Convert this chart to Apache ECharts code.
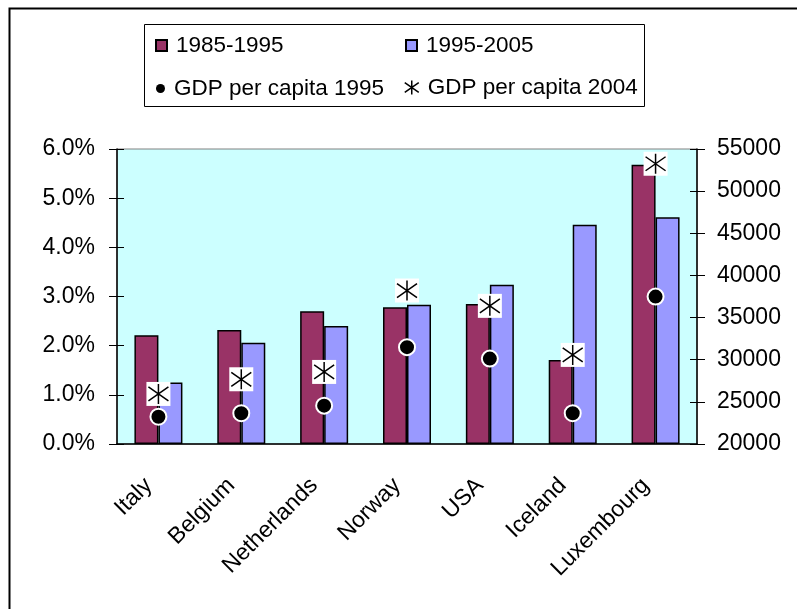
<!DOCTYPE html>
<html>
<head>
<meta charset="utf-8">
<script src="https://cdn.jsdelivr.net/npm/echarts@6/dist/echarts.min.js"></script>
<style>
    html, body { margin: 0; padding: 0; background: #fff; }
    #chart { width: 797px; height: 609px; }
</style>
</head>
<body>
<div id="chart"></div>
<script>
// 数据
var countries = ['Italy', 'Belgium', 'Netherlands', 'Norway', 'USA', 'Iceland', 'Luxembourg'];
var growth8595 = [2.21, 2.32, 2.70, 2.78, 2.85, 1.71, 5.68];   // %
var growth9505 = [1.25, 2.06, 2.40, 2.83, 3.24, 4.46, 4.61];   // %
var gdp1995 = [23240, 23650, 24550, 31490, 30130, 23650, 37490];
var gdp2004 = [25940, 27680, 28550, 38210, 36390, 30570, 53250];
var pctTicks = [0, 6, 1];          // min, max, interval
var gdpTicks = [20000, 55000, 5000];

var FONT = 'Liberation Sans, Arial, sans-serif';
var asteriskPath = 'path://M10,0L10,20M0,3L20,17M0,17L20,3';

var myChart = echarts.init(document.getElementById('chart'));

// 图例 (one legend per item so they sit in a 2x2 grid)
function legendItem(name, left, top, icon, size, itemStyle) {
    return {
        data: [{ name: name, icon: icon }],
        left: left, top: top,
        padding: 0,
        itemWidth: size, itemHeight: size,
        itemStyle: itemStyle || {},
        textStyle: { fontFamily: FONT, fontSize: 22.5, color: '#000', padding: [0, 0, 0, 4] },
        selectedMode: false
    };
}

myChart.setOption({
    animation: false,
    graphic: [
        { type: 'rect', shape: { x: 9.5, y: 8.5, width: 800, height: 620 },
          style: { fill: null, stroke: '#000', lineWidth: 2 } },
        { type: 'rect', shape: { x: 144.5, y: 24.5, width: 500, height: 82 },
          style: { fill: null, stroke: '#000', lineWidth: 1 } }
    ],
    legend: [
        legendItem('1985-1995', 155, 34, 'rect', 11),
        legendItem('1995-2005', 405, 34, 'rect', 11),
        legendItem('GDP per capita 1995', 156, 77, 'circle', 9, { borderWidth: 0 }),
        legendItem('GDP per capita 2004', 404, 76, asteriskPath, 14, { borderWidth: 1.5, borderColor: '#000' })
    ],
    grid: {
        left: 117, right: 100, top: 149, bottom: 165,
        show: true, backgroundColor: '#CCFFFF', borderColor: '#808080', borderWidth: 1
    },
    xAxis: [{
        type: 'category',
        data: countries,
        axisLine: { lineStyle: { color: '#000', width: 1.5 } },
        axisTick: { alignWithLabel: false, length: 8, lineStyle: { color: '#000' } },
        axisLabel: { interval: 0, rotate: 45, margin: 28, padding: [0, 14, 0, 0],
            fontFamily: FONT, fontSize: 23, color: '#000' }
    }, {
        // inner half of the crossing ticks
        type: 'category', position: 'bottom', data: countries,
        axisLine: { show: false },
        axisTick: { inside: true, length: 7, lineStyle: { color: '#000' } },
        axisLabel: { show: false }
    }],
    yAxis: [{
        type: 'value', position: 'left',
        min: pctTicks[0], max: pctTicks[1], interval: pctTicks[2],
        axisLine: { show: true, lineStyle: { color: '#000', width: 1.5 } },
        axisTick: { show: true, length: 8, lineStyle: { color: '#000' } },
        splitLine: { show: false },
        axisLabel: { margin: 22, fontFamily: FONT, fontSize: 23, color: '#000',
            formatter: function (v) { return v.toFixed(1) + '%'; } }
    }, {
        type: 'value', position: 'right',
        min: gdpTicks[0], max: gdpTicks[1], interval: gdpTicks[2],
        axisLine: { show: true, lineStyle: { color: '#000', width: 1.5 } },
        axisTick: { show: true, length: 8, lineStyle: { color: '#000' } },
        splitLine: { show: false },
        axisLabel: { margin: 20, fontFamily: FONT, fontSize: 23, color: '#000',
            formatter: function (v) { return String(v); } }
    }, {
        type: 'value', position: 'left',
        min: pctTicks[0], max: pctTicks[1], interval: pctTicks[2],
        axisLine: { show: false }, splitLine: { show: false }, axisLabel: { show: false },
        axisTick: { show: true, inside: true, length: 7, lineStyle: { color: '#000' } }
    }, {
        type: 'value', position: 'right',
        min: gdpTicks[0], max: gdpTicks[1], interval: gdpTicks[2],
        axisLine: { show: false }, splitLine: { show: false }, axisLabel: { show: false },
        axisTick: { show: true, inside: true, length: 7, lineStyle: { color: '#000' } }
    }],
    series: [{
        name: '1985-1995', type: 'bar', data: growth8595,
        barWidth: 24, barGap: '0%',
        itemStyle: { color: '#993366', borderColor: '#000', borderWidth: 1.5 }
    }, {
        name: '1995-2005', type: 'bar', data: growth9505,
        barWidth: 24, barGap: '0%',
        itemStyle: { color: '#9999FF', borderColor: '#000', borderWidth: 1.5 }
    }, {
        name: 'GDP per capita 1995', type: 'scatter', yAxisIndex: 1, data: gdp1995,
        symbol: 'circle', symbolSize: 16, z: 5,
        itemStyle: { color: '#000', borderColor: '#fff', borderWidth: 2, opacity: 1 }
    }, {
        // white box behind the asterisk
        name: 'box2004', type: 'scatter', yAxisIndex: 1, data: gdp2004,
        symbol: 'rect', symbolSize: 24, z: 5,
        itemStyle: { color: '#fff', opacity: 1 }
    }, {
        name: 'GDP per capita 2004', type: 'scatter', yAxisIndex: 1, data: gdp2004,
        symbol: asteriskPath, symbolSize: 20, z: 6,
        itemStyle: { color: '#000', borderColor: '#000', borderWidth: 1.5, opacity: 1 }
    }]
});
</script>
</body>
</html>
